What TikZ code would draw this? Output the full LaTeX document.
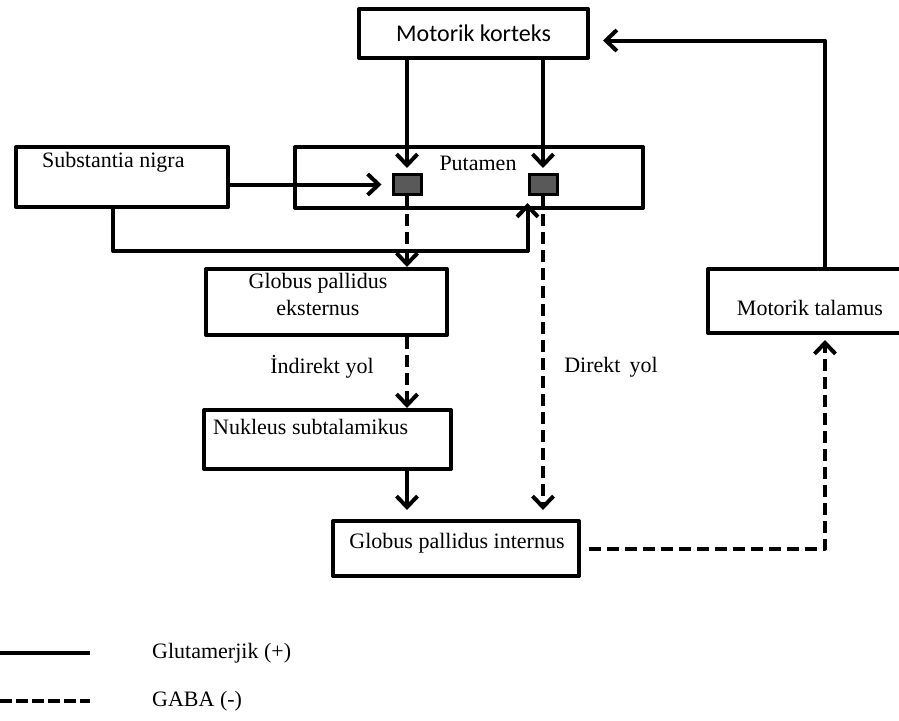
\documentclass[tikz,border=0pt]{standalone}
\usepackage{fontspec}
\setmainfont{Liberation Serif}
\newfontfamily\carlito{Carlito}
\usetikzlibrary{arrows.meta,positioning}

\tikzset{
	box/.style={draw,line width=4pt,line join=round,inner sep=0pt},
	lbl/.style={inner sep=0pt,align=center,font=\fontsize{22}{27}\selectfont},
	glu/.style={line width=4pt,line join=round,-{Straight Barb[length=11pt,width=21pt]}},
	gaba/.style={glu,dash pattern=on 12pt off 6pt},
	syn/.style={draw,line width=3pt,fill=black!65,minimum width=28pt,minimum height=20pt,inner sep=0pt}
}

\begin{document}
\begin{tikzpicture}[x=1pt,y=-1pt]
	\useasboundingbox (0,0) rectangle (899,720);

	% kutular
	\node[box,minimum width=229pt,minimum height=49pt,font=\carlito\fontsize{24}{28}\selectfont] (korteks) at (473.5,33.5) {Motorik korteks};
	\node[box,minimum width=212pt,minimum height=60pt] (nigra) at (122,177) {};
	\node[box,minimum width=348pt,minimum height=61pt] (putamen) at (469,177.5) {};
	\node[syn] (syn1) at (407,184.5) {};
	\node[syn] (syn2) at (543,184.5) {};
	\node[box,minimum width=241pt,minimum height=66pt] (gpe) at (326.5,302) {};
	\node[box,minimum width=247pt,minimum height=59pt] (nst) at (327.5,439.5) {};
	\node[box,minimum width=246pt,minimum height=55pt] (gpi) at (456,548.5) {};
	\node[box,minimum width=195pt,minimum height=64pt] (talamus) at (805.5,301) {};

	\node[lbl,anchor=west] (nigra-t) at (42,162) {Substantia nigra};
	\node[lbl] (putamen-t) at (478,163) {Putamen};
	\node[lbl] (gpe-t) at (318,294.5) {Globus pallidus\\eksternus};
	\node[lbl,anchor=west] (nst-t) at (213,427) {Nukleus subtalamikus};
	\node[lbl] (gpi-t) at (457,543) {Globus pallidus internus};
	\node[lbl] (talamus-t) at (810,308) {Motorik talamus};
	\node[lbl] (indirekt) at (322,367) {İndirekt yol};
	\node[lbl] (direkt) at (611,367) {Direkt\ \,yol};

	% yollar
	\draw[glu,shorten >=5pt] (korteks.south -| syn1) -- (syn1.north);
	\draw[glu,shorten >=5pt] (korteks.south -| syn2) -- (syn2.north);
	\draw[glu,shorten >=10pt] (nigra.east |- syn1) -- (syn1.west);
	\draw[glu] ([xshift=99pt]nigra.south west) |- ([yshift=-55pt]syn2.south west) -- ([yshift=-7pt]syn2.south west);
	\draw[gaba] (syn1.south) -- (gpe.north -| syn1);
	\draw[gaba] (gpe.south -| syn1) -- (nst.north -| syn1);
	\draw[glu,shorten >=9pt] (nst.south -| syn1) -- (gpi.north -| syn1);
	\draw[gaba,shorten >=9pt] (syn2.south) -- (gpi.north -| syn2);
	\draw[gaba,shorten <=8pt,shorten >=5pt] (gpi.east) -| ([xshift=119pt]talamus.south west);
	\draw[glu,shorten >=13pt] ([xshift=119pt]talamus.north west) |- ([yshift=-7pt]korteks.east);

	% lejant
	\coordinate (glu-a) at (0,653);
	\coordinate (glu-b) at (90,653);
	\coordinate (gaba-a) at (0,701);
	\coordinate (gaba-b) at (90,701);
	\draw[line width=4pt] (glu-a) -- (glu-b);
	\draw[line width=4pt,dash pattern=on 12pt off 4pt] (gaba-a) -- (gaba-b);
	\node[lbl,anchor=west,right=62pt of glu-b] (glu-t) {Glutamerjik (+)};
	\node[lbl,anchor=west,right=62pt of gaba-b] (gaba-t) {GABA (-)};
\end{tikzpicture}
\end{document}
